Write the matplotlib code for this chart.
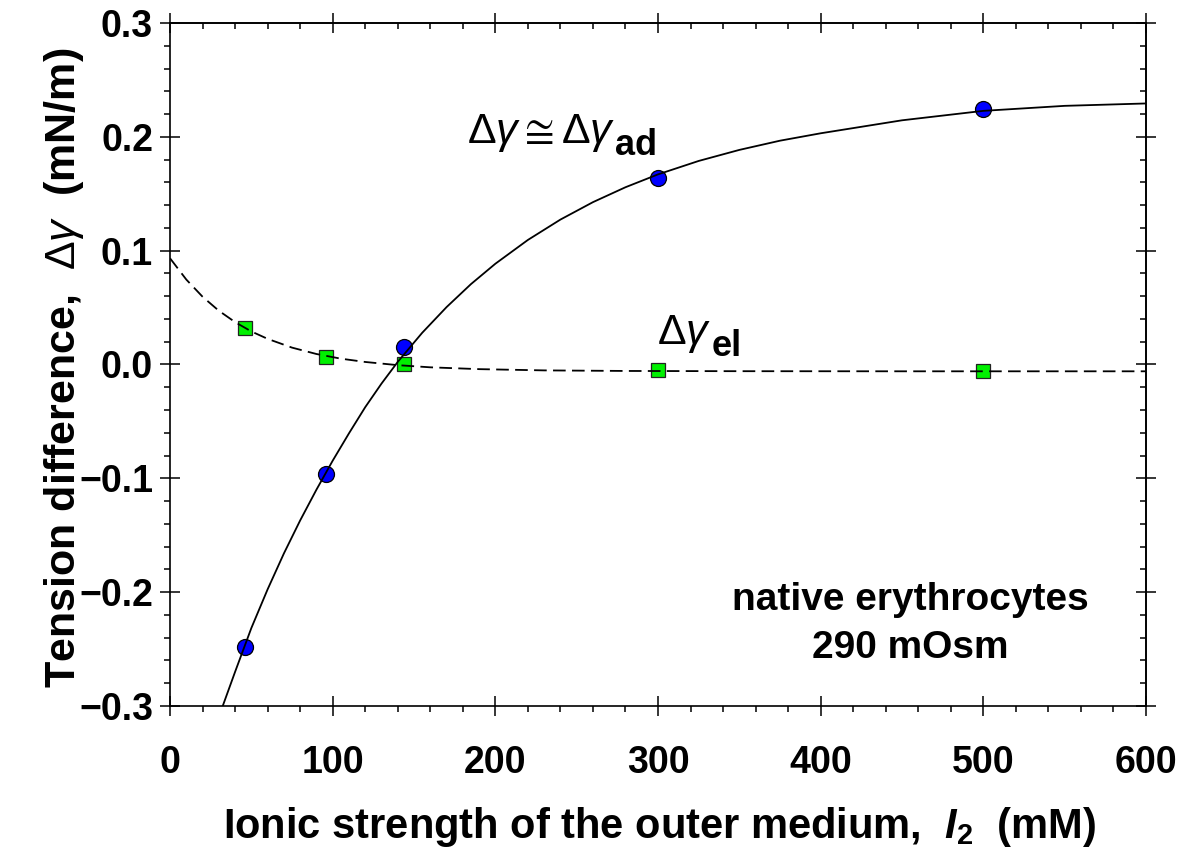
import numpy as np
import matplotlib

matplotlib.use("Agg")
import matplotlib.pyplot as plt
from matplotlib.ticker import MultipleLocator, FuncFormatter, NullFormatter

ionic_strength = [46, 96, 144, 300, 500]
tension_total = [-0.248, -0.096, 0.015, 0.164, 0.224]
tension_el = [0.032, 0.007, 0.000, -0.005, -0.006]

# fitted curves, sampled along the lines in the figure
fit_total_x = [30, 40, 50, 60, 70, 80, 90, 100, 110, 120, 130, 140, 155, 170, 185, 200,
               220, 240, 260, 280, 300, 325, 350, 375, 400, 450, 500, 550, 600]
fit_total_y = [-0.3095, -0.2700, -0.2315, -0.1975, -0.1660, -0.1370, -0.1100, -0.0845,
               -0.0605, -0.0375, -0.0168, 0.0023, 0.0278, 0.0504, 0.0706, 0.0885,
               0.1094, 0.1273, 0.1426, 0.1557, 0.1670, 0.1788, 0.1885, 0.1966, 0.2031,
               0.2145, 0.2228, 0.2272, 0.2293]
fit_el_x = [0, 10, 20, 30, 40, 50, 60, 75, 90, 105, 120, 140, 160, 190, 230, 280, 350, 450, 600]
fit_el_y = [0.0933, 0.0746, 0.0595, 0.0472, 0.0372, 0.0290, 0.0225, 0.0148, 0.0092,
            0.0051, 0.0022, -0.0006, -0.0025, -0.0041, -0.0052, -0.0057, -0.0059,
            -0.0060, -0.0060]

plt.rcParams["font.family"] = ["Liberation Sans", "DejaVu Sans"]
plt.rcParams["mathtext.fontset"] = "custom"
plt.rcParams["mathtext.rm"] = "Liberation Sans:weight=normal"
plt.rcParams["mathtext.it"] = "Liberation Sans:italic:weight=normal"
plt.rcParams["mathtext.bf"] = "Liberation Sans:bold"
plt.rcParams["mathtext.bfit"] = "Liberation Sans:bold:italic"


def fmt_y(v, pos):
    if abs(v) < 1e-9:
        return "0.0"
    return f"{v:.1f}".replace("-", "\u2212")


fig = plt.figure(figsize=(11.8, 8.48), dpi=100)
ax = fig.add_axes([0.1441, 0.1675, 0.9712 - 0.1441, 0.9729 - 0.1675])

# data markers (curves drawn on top, like the original)
ax.plot(ionic_strength, tension_total, "o", color="#0000ff", markeredgecolor="black",
        markeredgewidth=0.9, markersize=11.5, zorder=3)
ax.plot(ionic_strength, tension_el, "s", color="#00f000", markeredgecolor="#222222",
        markeredgewidth=0.9, markersize=10.5, zorder=3)

ax.plot(fit_total_x, fit_total_y, color="black", linewidth=1.3, zorder=4)
ax.plot(fit_el_x, fit_el_y, color="black", linewidth=1.3, dashes=(7, 3.5), zorder=4)

ax.set_xlim(0, 600)
ax.set_ylim(-0.3, 0.3)
ax.xaxis.set_major_locator(MultipleLocator(100))
ax.xaxis.set_minor_locator(MultipleLocator(20))
ax.yaxis.set_major_locator(MultipleLocator(0.1))
ax.yaxis.set_minor_locator(MultipleLocator(0.02))
ax.yaxis.set_major_formatter(FuncFormatter(fmt_y))
ax.xaxis.set_major_formatter(FuncFormatter(lambda v, p: f"{v:.0f}"))

for s in ax.spines.values():
    s.set_linewidth(1.2)

ax.tick_params(which="major", direction="inout", length=14.4, width=1.1, labelsize=27)
ax.tick_params(which="minor", direction="out", length=4.5, width=1.1)
ax.tick_params(axis="x", which="major", pad=21)
ax.tick_params(axis="y", which="major", pad=5)
for lbl in ax.get_xticklabels() + ax.get_yticklabels():
    lbl.set_fontweight("bold")

# top / right axes: minor ticks point inward there
top = ax.secondary_xaxis("top")
top.xaxis.set_major_locator(MultipleLocator(100))
top.xaxis.set_minor_locator(MultipleLocator(20))
top.xaxis.set_major_formatter(NullFormatter())
top.tick_params(which="major", direction="inout", length=14.4, width=1.1)
top.tick_params(which="minor", direction="in", length=4.5, width=1.1)
top.spines["top"].set_linewidth(1.2)

right = ax.secondary_yaxis("right")
right.yaxis.set_major_locator(MultipleLocator(0.1))
right.yaxis.set_minor_locator(MultipleLocator(0.02))
right.yaxis.set_major_formatter(NullFormatter())
right.tick_params(which="major", direction="inout", length=14.4, width=1.1)
right.tick_params(which="minor", direction="in", length=4.5, width=1.1)
right.spines["right"].set_linewidth(1.2)

# axis labels
fig.text(0.5593, 1 - 838 / 848, r"Ionic strength of the outer medium,  $\mathbfit{I}_{\mathbf{2}}$  (mM)",
         ha="center", va="baseline", fontsize=30, fontweight="bold")
fig.text(75 / 1180, 1 - 368 / 848, r"Tension difference,  $\Delta\gamma$  (mN/m)",
         ha="center", va="baseline", rotation=90, rotation_mode="anchor",
         fontsize=31, fontweight="bold")

# curve annotations: big bold subscript placed after the rendered main text
renderer = fig.canvas.get_renderer()


def label_with_sub(x, y, main, sub, size=31, sub_size=26, drop=12, gap=0):
    t = ax.text(x, y, main, fontsize=size, ha="left", va="baseline")
    bb = t.get_window_extent(renderer=renderer)
    base = ax.transData.transform((x, y))[1]
    ax.annotate(sub, xy=(bb.x1 + gap, base - drop), xycoords="figure pixels",
                fontsize=sub_size, fontweight="bold", ha="left", va="baseline")


label_with_sub(182.6, 0.1946, r"$\Delta\gamma \cong \Delta\gamma$", "ad")
label_with_sub(299.4, 0.018, r"$\Delta\gamma$", "el")

ax.text(455, (364.5 - 610) / 1138, "native erythrocytes", fontsize=28, fontweight="bold",
        ha="center", va="baseline")
ax.text(455, (364.5 - 658) / 1138, "290 mOsm", fontsize=28, fontweight="bold",
        ha="center", va="baseline")

fig.savefig("out.png", dpi=100)
